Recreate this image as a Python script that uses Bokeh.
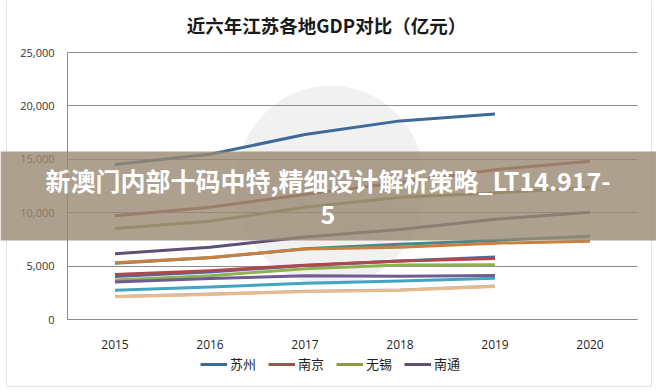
from bokeh.plotting import figure
from bokeh.models import (Range1d, NumeralTickFormatter, FixedTicker,
                          Legend, LegendItem, BoxAnnotation, Label)
from bokeh.embed import file_html
from bokeh.resources import INLINE

years = ["2015", "2016", "2017", "2018", "2019", "2020"]
y_ticks = [0, 5000, 10000, 15000, 20000, 25000]

suzhou = [14504, 15475, 17320, 18597, 19236]
nanjing = [9721, 10503, 11715, 12820, 14030, 14818]
wuxi = [8518, 9210, 10512, 11439, 11852, 12370]
nantong = [6148, 6768, 7735, 8427, 9383, 10036]
changzhou = [5273, 5774, 6622, 7050, 7401, 7805]
xuzhou = [5320, 5808, 6606, 6755, 7151, 7320]
yangzhou = [4017, 4449, 5065, 5467, 5850]
yancheng = [4212, 4576, 5083, 5487, 5702]
taizhou = [3688, 4101, 4745, 5107, 5133]
zhenjiang = [3502, 3834, 4105, 4050, 4127]
huaian = [2745, 3048, 3387, 3601, 3871]
lianyungang = [2161, 2377, 2640, 2772, 3139]
suqian = [2126, 2351, 2610, 2750, 3099]

names = ["苏州", "南京", "无锡", "南通", "常州", "徐州", "扬州", "盐城", "泰州",
         "镇江", "淮安", "连云港", "宿迁"]
series = [suzhou, nanjing, wuxi, nantong, changzhou, xuzhou, yangzhou, yancheng,
          taizhou, zhenjiang, huaian, lianyungang, suqian]
colors = ["#3d6a98", "#a5504a", "#8a9a4a", "#5f5078", "#3f8a8c", "#c8803c",
          "#4f68a8", "#b0474a", "#8fb150", "#6e5c92", "#42a4c2", "#a9a9c2", "#e9bb8c"]
legend_names = ["苏州", "南京", "无锡", "南通"]

title_text = "近六年江苏各地GDP对比（亿元）"
banner_line1 = "新澳门内部十码中特,精细设计解析策略_LT14.917-"
banner_line2 = "5"

# the frame covers the whole canvas; axes are pinned inside it
W, H = 656, 392
plot_left, plot_right, plot_top, plot_bottom = 67, 637, 52, 319
cat_w = (plot_right - plot_left) / len(years)
y_per_px = y_ticks[-1] / (plot_bottom - plot_top)

def dx(px):
    return (px - plot_left) / cat_w

def dy(py):
    return (plot_bottom - py) * y_per_px

p = figure(width=W, height=H,
           x_range=Range1d(dx(0), dx(W)), y_range=Range1d(dy(H), dy(0)),
           output_backend="svg", toolbar_location=None, min_border=0)
p.outline_line_color = None
p.background_fill_color = "white"
p.border_fill_color = "white"
p.xgrid.visible = False
p.ygrid.visible = False

xpos = [i + 0.5 for i in range(len(years))]

xa = p.xaxis[0]
xa.fixed_location = 0
xa.bounds = (0, len(years))
xa.ticker = FixedTicker(ticks=xpos)
xa.major_label_overrides = {x: y for x, y in zip(xpos, years)}
xa.axis_line_color = "#8c8c8c"
xa.major_tick_line_color = None
xa.minor_tick_line_color = None
xa.major_label_text_font = "Open Sans"
xa.major_label_text_font_size = "12px"
xa.major_label_text_color = "#262626"
xa.major_label_standoff = 14

ya = p.yaxis[0]
ya.fixed_location = 0
ya.bounds = (0, y_ticks[-1])
ya.ticker = FixedTicker(ticks=y_ticks)
ya.formatter = NumeralTickFormatter(format="0,0")
ya.axis_line_color = "#8c8c8c"
ya.major_tick_line_color = "#8c8c8c"
ya.major_tick_in = plot_right - plot_left
ya.major_tick_out = 0
ya.minor_tick_line_color = None
ya.major_label_text_font = "Open Sans"
ya.major_label_text_font_size = "11px"
ya.major_label_text_color = "#333333"
ya.major_label_standoff = 13
ya.level = "underlay"

# chart object border
p.add_layout(BoxAnnotation(left=dx(6), right=dx(651), bottom=dy(386), top=dy(-20),
                           fill_alpha=0, line_color="#a6a6a6", line_width=1, level="underlay"))

# faint watermark disc behind the chart
p.ellipse(x=[dx(330)], y=[dy(185)], width=190, height=200, width_units="screen",
          height_units="screen", fill_color="#f1f1f1", line_color=None, level="underlay")

renderers = {}
for name, vals, col in zip(names, series, colors):
    r = p.line(xpos[:len(vals)], vals, line_color=col, line_width=3, line_join="round")
    renderers[name] = r

legend = Legend(items=[LegendItem(label=n, renderers=[renderers[n]]) for n in legend_names],
                orientation="horizontal", location=(200, 19))
legend.border_line_color = None
legend.background_fill_alpha = 0
legend.label_text_font = "Noto Sans CJK SC"
legend.label_text_font_size = "13px"
legend.label_text_color = "#222222"
legend.glyph_width = 27
legend.glyph_height = 16
legend.label_standoff = 3
legend.spacing = 12
legend.padding = 0
legend.margin = 0
p.add_layout(legend)

p.add_layout(Label(x=dx(326), y=dy(24.5), text=title_text, text_align="center",
                   text_baseline="middle", text_font="Noto Sans CJK SC",
                   text_font_size="18.5px", text_font_style="bold", text_color="#1a1a1a"))

banner = BoxAnnotation(top=dy(151), bottom=dy(240), fill_color="#9a8872", fill_alpha=0.8,
                       line_color=None, level="overlay")
p.add_layout(banner)
for txt, py in ((banner_line1, 179), (banner_line2, 214)):
    p.add_layout(Label(x=dx(327.5), y=dy(py), text=txt,
                       text_align="center", text_baseline="middle",
                       text_font="Noto Sans CJK SC", text_font_size="25px",
                       text_font_style="bold", text_color="white", level="overlay"))

open("out.html", "w").write(file_html(p, INLINE))
